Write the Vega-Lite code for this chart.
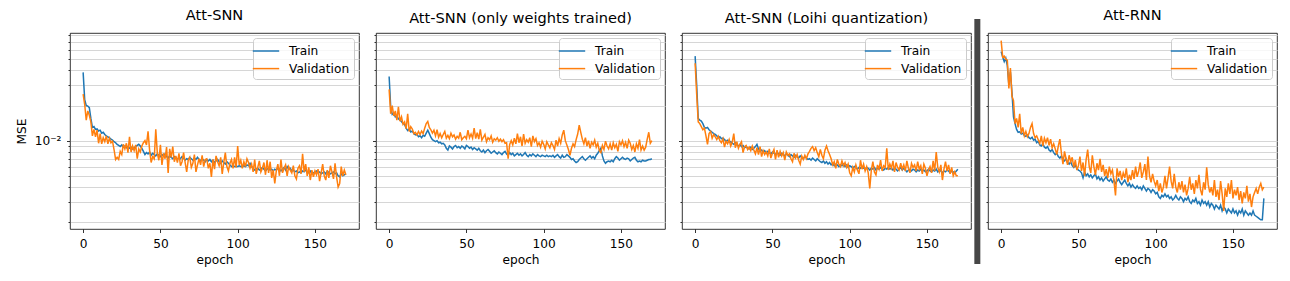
{
"$schema": "https://vega.github.io/schema/vega-lite/v6.json",
"background": "white",
"padding": {"left": 14, "top": 7, "right": 5, "bottom": 0},
"datasets": {"loss": [
{"epoch":0,"t1":0.0385,"v1":0.025,"t2":0.0355,"v2":0.0275,"t3":0.053,"v3":0.046,"t4":0.058,"v4":0.072},
{"epoch":1,"t1":0.0225,"v1":0.0205,"t2":0.0195,"v2":0.017,"t3":0.03,"v3":0.025,"t4":0.052,"v4":0.052},
{"epoch":2,"t1":0.02,"v1":0.015,"t2":0.0168,"v2":0.02,"t3":0.0155,"v3":0.0145,"t4":0.0475,"v4":0.053},
{"epoch":3,"t1":0.0198,"v1":0.018,"t2":0.0172,"v2":0.0163,"t3":0.015,"v3":0.014,"t4":0.051,"v4":0.05},
{"epoch":4,"t1":0.0192,"v1":0.0165,"t2":0.016,"v2":0.018,"t3":0.0147,"v3":0.0132,"t4":0.044,"v4":0.049},
{"epoch":5,"t1":0.0155,"v1":0.0145,"t2":0.0163,"v2":0.015,"t3":0.014,"v3":0.0124,"t4":0.03,"v4":0.028},
{"epoch":6,"t1":0.013,"v1":0.011,"t2":0.0154,"v2":0.0195,"t3":0.013,"v3":0.0128,"t4":0.039,"v4":0.042},
{"epoch":7,"t1":0.0132,"v1":0.0125,"t2":0.015,"v2":0.0147,"t3":0.0128,"v3":0.011,"t4":0.026,"v4":0.024},
{"epoch":8,"t1":0.0125,"v1":0.0108,"t2":0.0146,"v2":0.016,"t3":0.013,"v3":0.0093,"t4":0.016,"v4":0.022},
{"epoch":9,"t1":0.0126,"v1":0.0123,"t2":0.014,"v2":0.0138,"t3":0.0124,"v3":0.0115,"t4":0.014,"v4":0.014},
{"epoch":10,"t1":0.0121,"v1":0.0095,"t2":0.0138,"v2":0.0145,"t3":0.0121,"v3":0.012,"t4":0.0125,"v4":0.0155},
{"epoch":11,"t1":0.0123,"v1":0.0115,"t2":0.0128,"v2":0.0127,"t3":0.0118,"v3":0.0105,"t4":0.0118,"v4":0.013},
{"epoch":12,"t1":0.0116,"v1":0.0094,"t2":0.0122,"v2":0.017,"t3":0.0115,"v3":0.0113,"t4":0.0119,"v4":0.017},
{"epoch":13,"t1":0.0118,"v1":0.0106,"t2":0.0126,"v2":0.012,"t3":0.0113,"v3":0.0108,"t4":0.0114,"v4":0.0115},
{"epoch":14,"t1":0.0113,"v1":0.0098,"t2":0.0119,"v2":0.0132,"t3":0.011,"v3":0.0102,"t4":0.0116,"v4":0.013},
{"epoch":15,"t1":0.011,"v1":0.011,"t2":0.0121,"v2":0.0126,"t3":0.0106,"v3":0.0109,"t4":0.0111,"v4":0.011},
{"epoch":16,"t1":0.0108,"v1":0.0094,"t2":0.0115,"v2":0.0115,"t3":0.0108,"v3":0.01,"t4":0.0109,"v4":0.012},
{"epoch":17,"t1":0.0106,"v1":0.0105,"t2":0.0112,"v2":0.0118,"t3":0.0104,"v3":0.0096,"t4":0.0112,"v4":0.0108},
{"epoch":18,"t1":0.0103,"v1":0.0096,"t2":0.0114,"v2":0.0112,"t3":0.0105,"v3":0.0104,"t4":0.0106,"v4":0.0115},
{"epoch":19,"t1":0.0101,"v1":0.0099,"t2":0.0108,"v2":0.012,"t3":0.0102,"v3":0.0088,"t4":0.0104,"v4":0.013},
{"epoch":20,"t1":0.0098,"v1":0.0084,"t2":0.011,"v2":0.0113,"t3":0.0099,"v3":0.0099,"t4":0.0107,"v4":0.014},
{"epoch":21,"t1":0.0096,"v1":0.0069,"t2":0.0106,"v2":0.0121,"t3":0.0101,"v3":0.0094,"t4":0.0101,"v4":0.0115},
{"epoch":22,"t1":0.0093,"v1":0.0072,"t2":0.0111,"v2":0.0115,"t3":0.0097,"v3":0.0102,"t4":0.0103,"v4":0.0106},
{"epoch":23,"t1":0.0091,"v1":0.0069,"t2":0.0109,"v2":0.0128,"t3":0.0098,"v3":0.009,"t4":0.0096,"v4":0.011},
{"epoch":24,"t1":0.0089,"v1":0.0081,"t2":0.0116,"v2":0.014,"t3":0.0095,"v3":0.0097,"t4":0.0099,"v4":0.0102},
{"epoch":25,"t1":0.0092,"v1":0.0076,"t2":0.0123,"v2":0.0146,"t3":0.0093,"v3":0.0115,"t4":0.0092,"v4":0.0095},
{"epoch":26,"t1":0.0088,"v1":0.0093,"t2":0.0115,"v2":0.013,"t3":0.0096,"v3":0.0087,"t4":0.009,"v4":0.011},
{"epoch":27,"t1":0.009,"v1":0.0085,"t2":0.0107,"v2":0.0124,"t3":0.0092,"v3":0.0098,"t4":0.0094,"v4":0.009},
{"epoch":28,"t1":0.0087,"v1":0.0095,"t2":0.0102,"v2":0.0116,"t3":0.009,"v3":0.0086,"t4":0.0088,"v4":0.0105},
{"epoch":29,"t1":0.0089,"v1":0.0079,"t2":0.01,"v2":0.0123,"t3":0.0093,"v3":0.0093,"t4":0.0086,"v4":0.0096},
{"epoch":30,"t1":0.0086,"v1":0.0108,"t2":0.0098,"v2":0.011,"t3":0.0089,"v3":0.0098,"t4":0.0089,"v4":0.0106},
{"epoch":31,"t1":0.0088,"v1":0.008,"t2":0.01,"v2":0.0124,"t3":0.0091,"v3":0.0079,"t4":0.0083,"v4":0.0091},
{"epoch":32,"t1":0.0085,"v1":0.009,"t2":0.0096,"v2":0.0107,"t3":0.0087,"v3":0.0089,"t4":0.0081,"v4":0.0103},
{"epoch":33,"t1":0.0087,"v1":0.0082,"t2":0.0097,"v2":0.0115,"t3":0.0089,"v3":0.0091,"t4":0.0084,"v4":0.0087},
{"epoch":34,"t1":0.0089,"v1":0.0092,"t2":0.0094,"v2":0.0106,"t3":0.0086,"v3":0.0084,"t4":0.0079,"v4":0.0094},
{"epoch":35,"t1":0.0091,"v1":0.007,"t2":0.0095,"v2":0.0113,"t3":0.0085,"v3":0.0088,"t4":0.0076,"v4":0.0085},
{"epoch":36,"t1":0.0093,"v1":0.0085,"t2":0.0092,"v2":0.012,"t3":0.0088,"v3":0.0082,"t4":0.0078,"v4":0.0076},
{"epoch":37,"t1":0.009,"v1":0.008,"t2":0.0086,"v2":0.0105,"t3":0.0084,"v3":0.009,"t4":0.0073,"v4":0.009},
{"epoch":38,"t1":0.0086,"v1":0.009,"t2":0.0083,"v2":0.0111,"t3":0.0086,"v3":0.0083,"t4":0.0071,"v4":0.0103},
{"epoch":39,"t1":0.0081,"v1":0.0096,"t2":0.009,"v2":0.0104,"t3":0.0089,"v3":0.0077,"t4":0.0074,"v4":0.0078},
{"epoch":40,"t1":0.0076,"v1":0.01,"t2":0.0088,"v2":0.0116,"t3":0.0093,"v3":0.0087,"t4":0.0069,"v4":0.0063},
{"epoch":41,"t1":0.0079,"v1":0.0092,"t2":0.0085,"v2":0.0108,"t3":0.0085,"v3":0.0076,"t4":0.0067,"v4":0.0081},
{"epoch":42,"t1":0.0077,"v1":0.012,"t2":0.0089,"v2":0.0112,"t3":0.0081,"v3":0.0089,"t4":0.007,"v4":0.007},
{"epoch":43,"t1":0.008,"v1":0.0083,"t2":0.0091,"v2":0.0103,"t3":0.0083,"v3":0.0073,"t4":0.0065,"v4":0.0062},
{"epoch":44,"t1":0.0075,"v1":0.0065,"t2":0.0087,"v2":0.0109,"t3":0.008,"v3":0.0082,"t4":0.0063,"v4":0.0075},
{"epoch":45,"t1":0.0078,"v1":0.0073,"t2":0.0089,"v2":0.0105,"t3":0.0082,"v3":0.0076,"t4":0.0066,"v4":0.0066},
{"epoch":46,"t1":0.0076,"v1":0.007,"t2":0.0086,"v2":0.0118,"t3":0.0078,"v3":0.008,"t4":0.0061,"v4":0.0072},
{"epoch":47,"t1":0.0074,"v1":0.0125,"t2":0.009,"v2":0.0102,"t3":0.0081,"v3":0.0074,"t4":0.0059,"v4":0.0059},
{"epoch":48,"t1":0.0077,"v1":0.0078,"t2":0.0088,"v2":0.0106,"t3":0.0079,"v3":0.0085,"t4":0.0062,"v4":0.0068},
{"epoch":49,"t1":0.0075,"v1":0.0068,"t2":0.0085,"v2":0.0109,"t3":0.0077,"v3":0.0071,"t4":0.0058,"v4":0.0056},
{"epoch":50,"t1":0.0073,"v1":0.0092,"t2":0.0091,"v2":0.0104,"t3":0.008,"v3":0.0078,"t4":0.0056,"v4":0.0061},
{"epoch":51,"t1":0.0076,"v1":0.0062,"t2":0.0089,"v2":0.0123,"t3":0.0078,"v3":0.0084,"t4":0.0055,"v4":0.0073},
{"epoch":52,"t1":0.0074,"v1":0.0078,"t2":0.0086,"v2":0.0106,"t3":0.0076,"v3":0.0069,"t4":0.0053,"v4":0.0055},
{"epoch":53,"t1":0.0077,"v1":0.007,"t2":0.0088,"v2":0.0114,"t3":0.0079,"v3":0.0083,"t4":0.0048,"v4":0.0065},
{"epoch":54,"t1":0.0073,"v1":0.0088,"t2":0.0084,"v2":0.0105,"t3":0.0077,"v3":0.0072,"t4":0.0054,"v4":0.005},
{"epoch":55,"t1":0.0071,"v1":0.0053,"t2":0.0087,"v2":0.0128,"t3":0.0075,"v3":0.0081,"t4":0.005,"v4":0.0069},
{"epoch":56,"t1":0.0074,"v1":0.0085,"t2":0.0085,"v2":0.0104,"t3":0.0078,"v3":0.0074,"t4":0.0052,"v4":0.0084},
{"epoch":57,"t1":0.0072,"v1":0.0072,"t2":0.0083,"v2":0.0117,"t3":0.0076,"v3":0.0079,"t4":0.0049,"v4":0.006},
{"epoch":58,"t1":0.007,"v1":0.0089,"t2":0.0086,"v2":0.0103,"t3":0.0074,"v3":0.0068,"t4":0.0051,"v4":0.0053},
{"epoch":59,"t1":0.0073,"v1":0.0066,"t2":0.0082,"v2":0.0125,"t3":0.0077,"v3":0.008,"t4":0.0048,"v4":0.0075},
{"epoch":60,"t1":0.0071,"v1":0.0074,"t2":0.008,"v2":0.0101,"t3":0.0075,"v3":0.0075,"t4":0.005,"v4":0.006},
{"epoch":61,"t1":0.0069,"v1":0.0065,"t2":0.0083,"v2":0.0107,"t3":0.0073,"v3":0.0077,"t4":0.0052,"v4":0.0051},
{"epoch":62,"t1":0.0072,"v1":0.0078,"t2":0.0079,"v2":0.0113,"t3":0.0076,"v3":0.007,"t4":0.0047,"v4":0.0064},
{"epoch":63,"t1":0.007,"v1":0.0061,"t2":0.0082,"v2":0.0098,"t3":0.0074,"v3":0.0066,"t4":0.0049,"v4":0.0056},
{"epoch":64,"t1":0.0073,"v1":0.0066,"t2":0.0084,"v2":0.0106,"t3":0.0072,"v3":0.0078,"t4":0.0046,"v4":0.007},
{"epoch":65,"t1":0.0071,"v1":0.0079,"t2":0.0081,"v2":0.0102,"t3":0.0075,"v3":0.0071,"t4":0.0048,"v4":0.0054},
{"epoch":66,"t1":0.0068,"v1":0.0065,"t2":0.0078,"v2":0.011,"t3":0.0073,"v3":0.0076,"t4":0.0045,"v4":0.0062},
{"epoch":67,"t1":0.007,"v1":0.0054,"t2":0.008,"v2":0.0097,"t3":0.0071,"v3":0.0068,"t4":0.0047,"v4":0.005},
{"epoch":68,"t1":0.0069,"v1":0.0068,"t2":0.0082,"v2":0.0104,"t3":0.0074,"v3":0.0063,"t4":0.0049,"v4":0.0057},
{"epoch":69,"t1":0.0072,"v1":0.0072,"t2":0.0079,"v2":0.0101,"t3":0.0072,"v3":0.0074,"t4":0.0046,"v4":0.0048},
{"epoch":70,"t1":0.007,"v1":0.0059,"t2":0.0077,"v2":0.0106,"t3":0.007,"v3":0.0069,"t4":0.0045,"v4":0.006},
{"epoch":71,"t1":0.0068,"v1":0.0064,"t2":0.008,"v2":0.0099,"t3":0.0073,"v3":0.0075,"t4":0.0047,"v4":0.0052},
{"epoch":72,"t1":0.0071,"v1":0.0076,"t2":0.0078,"v2":0.0103,"t3":0.0071,"v3":0.007,"t4":0.0044,"v4":0.0056},
{"epoch":73,"t1":0.0069,"v1":0.0054,"t2":0.0076,"v2":0.0098,"t3":0.0069,"v3":0.0077,"t4":0.0046,"v4":0.0045},
{"epoch":74,"t1":0.0072,"v1":0.0062,"t2":0.0079,"v2":0.0102,"t3":0.007,"v3":0.0081,"t4":0.0043,"v4":0.0034},
{"epoch":75,"t1":0.0069,"v1":0.007,"t2":0.0081,"v2":0.0095,"t3":0.0068,"v3":0.0086,"t4":0.0045,"v4":0.0058},
{"epoch":76,"t1":0.0067,"v1":0.0062,"t2":0.0077,"v2":0.0096,"t3":0.0071,"v3":0.0089,"t4":0.0047,"v4":0.0049},
{"epoch":77,"t1":0.007,"v1":0.0075,"t2":0.0075,"v2":0.007,"t3":0.0069,"v3":0.0082,"t4":0.0044,"v4":0.0055},
{"epoch":78,"t1":0.0068,"v1":0.006,"t2":0.0079,"v2":0.0093,"t3":0.0067,"v3":0.0087,"t4":0.0042,"v4":0.0046},
{"epoch":79,"t1":0.0066,"v1":0.0069,"t2":0.0076,"v2":0.01,"t3":0.007,"v3":0.0079,"t4":0.0044,"v4":0.0053},
{"epoch":80,"t1":0.0069,"v1":0.007,"t2":0.0078,"v2":0.0092,"t3":0.0068,"v3":0.0073,"t4":0.0046,"v4":0.0048},
{"epoch":81,"t1":0.0067,"v1":0.0058,"t2":0.0074,"v2":0.0105,"t3":0.0066,"v3":0.0084,"t4":0.0043,"v4":0.0058},
{"epoch":82,"t1":0.0069,"v1":0.0064,"t2":0.0076,"v2":0.0094,"t3":0.0065,"v3":0.0075,"t4":0.0041,"v4":0.0044},
{"epoch":83,"t1":0.0066,"v1":0.0049,"t2":0.0078,"v2":0.0115,"t3":0.0067,"v3":0.007,"t4":0.0043,"v4":0.0051},
{"epoch":84,"t1":0.0068,"v1":0.0069,"t2":0.0075,"v2":0.0096,"t3":0.0064,"v3":0.0083,"t4":0.004,"v4":0.0046},
{"epoch":85,"t1":0.0065,"v1":0.0057,"t2":0.0077,"v2":0.0108,"t3":0.0066,"v3":0.009,"t4":0.0042,"v4":0.0056},
{"epoch":86,"t1":0.0067,"v1":0.0074,"t2":0.0074,"v2":0.009,"t3":0.0063,"v3":0.0082,"t4":0.004,"v4":0.0047},
{"epoch":87,"t1":0.0069,"v1":0.0066,"t2":0.0076,"v2":0.0114,"t3":0.0065,"v3":0.0076,"t4":0.0039,"v4":0.006},
{"epoch":88,"t1":0.0066,"v1":0.0061,"t2":0.0079,"v2":0.0095,"t3":0.0062,"v3":0.007,"t4":0.0041,"v4":0.0049},
{"epoch":89,"t1":0.0064,"v1":0.0072,"t2":0.0075,"v2":0.0102,"t3":0.0064,"v3":0.0062,"t4":0.0039,"v4":0.0055},
{"epoch":90,"t1":0.0067,"v1":0.0052,"t2":0.0073,"v2":0.0097,"t3":0.0061,"v3":0.0066,"t4":0.004,"v4":0.0065},
{"epoch":91,"t1":0.0065,"v1":0.0065,"t2":0.0076,"v2":0.0106,"t3":0.0063,"v3":0.0058,"t4":0.0038,"v4":0.0048},
{"epoch":92,"t1":0.0063,"v1":0.0079,"t2":0.0074,"v2":0.0089,"t3":0.0062,"v3":0.0069,"t4":0.0041,"v4":0.0054},
{"epoch":93,"t1":0.0066,"v1":0.006,"t2":0.0077,"v2":0.011,"t3":0.006,"v3":0.0063,"t4":0.0039,"v4":0.0063},
{"epoch":94,"t1":0.0064,"v1":0.0055,"t2":0.0075,"v2":0.0098,"t3":0.0062,"v3":0.006,"t4":0.0037,"v4":0.0046},
{"epoch":95,"t1":0.0062,"v1":0.0064,"t2":0.0073,"v2":0.0104,"t3":0.0061,"v3":0.0067,"t4":0.0039,"v4":0.0073},
{"epoch":96,"t1":0.006,"v1":0.0069,"t2":0.0076,"v2":0.0091,"t3":0.0063,"v3":0.0061,"t4":0.0038,"v4":0.005},
{"epoch":97,"t1":0.0061,"v1":0.0058,"t2":0.0074,"v2":0.0096,"t3":0.006,"v3":0.0065,"t4":0.0036,"v4":0.0044},
{"epoch":98,"t1":0.006,"v1":0.0072,"t2":0.0073,"v2":0.0088,"t3":0.0062,"v3":0.0059,"t4":0.0038,"v4":0.0052},
{"epoch":99,"t1":0.006,"v1":0.0059,"t2":0.0075,"v2":0.0099,"t3":0.0059,"v3":0.0063,"t4":0.0037,"v4":0.0045},
{"epoch":100,"t1":0.006,"v1":0.009,"t2":0.0074,"v2":0.0093,"t3":0.0061,"v3":0.0053,"t4":0.0035,"v4":0.0041},
{"epoch":101,"t1":0.0061,"v1":0.0062,"t2":0.0073,"v2":0.0085,"t3":0.006,"v3":0.005,"t4":0.0036,"v4":0.0046},
{"epoch":102,"t1":0.006,"v1":0.0068,"t2":0.0075,"v2":0.0098,"t3":0.0058,"v3":0.0059,"t4":0.0033,"v4":0.0037},
{"epoch":103,"t1":0.006,"v1":0.0058,"t2":0.0073,"v2":0.0092,"t3":0.006,"v3":0.0054,"t4":0.0032,"v4":0.0043},
{"epoch":104,"t1":0.0061,"v1":0.0066,"t2":0.0074,"v2":0.0087,"t3":0.0059,"v3":0.0062,"t4":0.0034,"v4":0.0036},
{"epoch":105,"t1":0.006,"v1":0.006,"t2":0.0073,"v2":0.0096,"t3":0.0057,"v3":0.0056,"t4":0.0033,"v4":0.004},
{"epoch":106,"t1":0.0062,"v1":0.007,"t2":0.0075,"v2":0.0091,"t3":0.0059,"v3":0.0052,"t4":0.0035,"v4":0.005},
{"epoch":107,"t1":0.0061,"v1":0.0065,"t2":0.0072,"v2":0.0084,"t3":0.0058,"v3":0.0068,"t4":0.0033,"v4":0.0039},
{"epoch":108,"t1":0.0064,"v1":0.0058,"t2":0.0074,"v2":0.0101,"t3":0.006,"v3":0.0057,"t4":0.0034,"v4":0.0048},
{"epoch":109,"t1":0.006,"v1":0.0063,"t2":0.0076,"v2":0.009,"t3":0.0058,"v3":0.0063,"t4":0.0032,"v4":0.006},
{"epoch":110,"t1":0.0058,"v1":0.0054,"t2":0.0073,"v2":0.0104,"t3":0.0057,"v3":0.0055,"t4":0.0033,"v4":0.0045},
{"epoch":111,"t1":0.0056,"v1":0.0069,"t2":0.0071,"v2":0.0095,"t3":0.0059,"v3":0.006,"t4":0.0031,"v4":0.0039},
{"epoch":112,"t1":0.0057,"v1":0.0052,"t2":0.0075,"v2":0.0112,"t3":0.0058,"v3":0.0053,"t4":0.0032,"v4":0.0052},
{"epoch":113,"t1":0.0058,"v1":0.0059,"t2":0.0072,"v2":0.0123,"t3":0.0056,"v3":0.0039,"t4":0.0034,"v4":0.004},
{"epoch":114,"t1":0.0056,"v1":0.0067,"t2":0.0073,"v2":0.01,"t3":0.0058,"v3":0.0056,"t4":0.0032,"v4":0.0036},
{"epoch":115,"t1":0.0057,"v1":0.0054,"t2":0.0076,"v2":0.0092,"t3":0.0057,"v3":0.0066,"t4":0.0031,"v4":0.0044},
{"epoch":116,"t1":0.0059,"v1":0.0058,"t2":0.0074,"v2":0.0084,"t3":0.0059,"v3":0.0054,"t4":0.0033,"v4":0.0038},
{"epoch":117,"t1":0.0057,"v1":0.0065,"t2":0.0072,"v2":0.0075,"t3":0.0056,"v3":0.0051,"t4":0.0032,"v4":0.0045},
{"epoch":118,"t1":0.0055,"v1":0.0051,"t2":0.0069,"v2":0.0086,"t3":0.0058,"v3":0.0062,"t4":0.003,"v4":0.0036},
{"epoch":119,"t1":0.0057,"v1":0.0068,"t2":0.007,"v2":0.0094,"t3":0.0057,"v3":0.0057,"t4":0.0032,"v4":0.0042},
{"epoch":120,"t1":0.0058,"v1":0.0053,"t2":0.0067,"v2":0.0089,"t3":0.0059,"v3":0.0068,"t4":0.0031,"v4":0.0034},
{"epoch":121,"t1":0.0056,"v1":0.0066,"t2":0.0065,"v2":0.0102,"t3":0.0057,"v3":0.0055,"t4":0.0033,"v4":0.0039},
{"epoch":122,"t1":0.0057,"v1":0.0048,"t2":0.0066,"v2":0.0114,"t3":0.0056,"v3":0.0061,"t4":0.003,"v4":0.0049},
{"epoch":123,"t1":0.0055,"v1":0.0056,"t2":0.0069,"v2":0.0136,"t3":0.0058,"v3":0.0059,"t4":0.0029,"v4":0.0038},
{"epoch":124,"t1":0.0057,"v1":0.0043,"t2":0.0071,"v2":0.0118,"t3":0.0057,"v3":0.0086,"t4":0.0031,"v4":0.0043},
{"epoch":125,"t1":0.0056,"v1":0.0055,"t2":0.0073,"v2":0.0103,"t3":0.0059,"v3":0.0056,"t4":0.003,"v4":0.0035},
{"epoch":126,"t1":0.0058,"v1":0.0063,"t2":0.007,"v2":0.0094,"t3":0.0057,"v3":0.0063,"t4":0.0032,"v4":0.0046},
{"epoch":127,"t1":0.0057,"v1":0.005,"t2":0.0068,"v2":0.0106,"t3":0.0058,"v3":0.0058,"t4":0.0029,"v4":0.0039},
{"epoch":128,"t1":0.0055,"v1":0.0069,"t2":0.007,"v2":0.009,"t3":0.0056,"v3":0.0067,"t4":0.003,"v4":0.0051},
{"epoch":129,"t1":0.0057,"v1":0.0053,"t2":0.0072,"v2":0.01,"t3":0.0058,"v3":0.0054,"t4":0.0028,"v4":0.0038},
{"epoch":130,"t1":0.0059,"v1":0.0058,"t2":0.0074,"v2":0.0086,"t3":0.0057,"v3":0.0065,"t4":0.0031,"v4":0.0034},
{"epoch":131,"t1":0.0056,"v1":0.0062,"t2":0.0071,"v2":0.0097,"t3":0.0055,"v3":0.0059,"t4":0.0029,"v4":0.0044},
{"epoch":132,"t1":0.006,"v1":0.005,"t2":0.0073,"v2":0.0092,"t3":0.0057,"v3":0.0056,"t4":0.003,"v4":0.0038},
{"epoch":133,"t1":0.0057,"v1":0.006,"t2":0.007,"v2":0.0101,"t3":0.0059,"v3":0.0064,"t4":0.0028,"v4":0.0059},
{"epoch":134,"t1":0.0058,"v1":0.0056,"t2":0.0075,"v2":0.0088,"t3":0.0056,"v3":0.0057,"t4":0.003,"v4":0.0042},
{"epoch":135,"t1":0.0055,"v1":0.0053,"t2":0.0078,"v2":0.0095,"t3":0.0058,"v3":0.0062,"t4":0.0027,"v4":0.0036},
{"epoch":136,"t1":0.0056,"v1":0.0061,"t2":0.0082,"v2":0.0082,"t3":0.0056,"v3":0.0055,"t4":0.0029,"v4":0.004},
{"epoch":137,"t1":0.0054,"v1":0.005,"t2":0.0086,"v2":0.0079,"t3":0.0054,"v3":0.0067,"t4":0.0028,"v4":0.0034},
{"epoch":138,"t1":0.0055,"v1":0.0047,"t2":0.0074,"v2":0.0091,"t3":0.0056,"v3":0.0058,"t4":0.0026,"v4":0.0046},
{"epoch":139,"t1":0.0053,"v1":0.0058,"t2":0.0067,"v2":0.0084,"t3":0.0057,"v3":0.0053,"t4":0.0028,"v4":0.0033},
{"epoch":140,"t1":0.0054,"v1":0.0061,"t2":0.0064,"v2":0.0099,"t3":0.0055,"v3":0.0064,"t4":0.0027,"v4":0.0038},
{"epoch":141,"t1":0.0053,"v1":0.0052,"t2":0.0066,"v2":0.009,"t3":0.0057,"v3":0.0059,"t4":0.0026,"v4":0.0031},
{"epoch":142,"t1":0.0055,"v1":0.0077,"t2":0.0067,"v2":0.0085,"t3":0.0056,"v3":0.0062,"t4":0.0028,"v4":0.0045},
{"epoch":143,"t1":0.0054,"v1":0.0054,"t2":0.0066,"v2":0.0094,"t3":0.0054,"v3":0.0055,"t4":0.0025,"v4":0.0035},
{"epoch":144,"t1":0.0056,"v1":0.0063,"t2":0.0068,"v2":0.0083,"t3":0.0056,"v3":0.0066,"t4":0.0027,"v4":0.0025},
{"epoch":145,"t1":0.0054,"v1":0.005,"t2":0.0066,"v2":0.0096,"t3":0.0055,"v3":0.0057,"t4":0.0026,"v4":0.0039},
{"epoch":146,"t1":0.0053,"v1":0.0059,"t2":0.007,"v2":0.0087,"t3":0.0057,"v3":0.0061,"t4":0.0024,"v4":0.0033},
{"epoch":147,"t1":0.0055,"v1":0.0046,"t2":0.0073,"v2":0.0093,"t3":0.0055,"v3":0.0052,"t4":0.0026,"v4":0.0043},
{"epoch":148,"t1":0.0052,"v1":0.0056,"t2":0.0071,"v2":0.0081,"t3":0.0056,"v3":0.0063,"t4":0.0025,"v4":0.0035},
{"epoch":149,"t1":0.0053,"v1":0.0049,"t2":0.0068,"v2":0.0098,"t3":0.0054,"v3":0.0058,"t4":0.0024,"v4":0.0046},
{"epoch":150,"t1":0.0054,"v1":0.0055,"t2":0.007,"v2":0.0092,"t3":0.0055,"v3":0.005,"t4":0.0026,"v4":0.0032},
{"epoch":151,"t1":0.0055,"v1":0.0051,"t2":0.0072,"v2":0.01,"t3":0.0057,"v3":0.0056,"t4":0.0024,"v4":0.0038},
{"epoch":152,"t1":0.0053,"v1":0.0057,"t2":0.007,"v2":0.0089,"t3":0.0055,"v3":0.006,"t4":0.0025,"v4":0.0034},
{"epoch":153,"t1":0.0054,"v1":0.0045,"t2":0.0069,"v2":0.0097,"t3":0.0054,"v3":0.0053,"t4":0.0023,"v4":0.004},
{"epoch":154,"t1":0.0052,"v1":0.0053,"t2":0.0071,"v2":0.0086,"t3":0.0056,"v3":0.0067,"t4":0.0025,"v4":0.0031},
{"epoch":155,"t1":0.0053,"v1":0.0063,"t2":0.007,"v2":0.0101,"t3":0.0055,"v3":0.0055,"t4":0.0024,"v4":0.0037},
{"epoch":156,"t1":0.0054,"v1":0.005,"t2":0.0067,"v2":0.0095,"t3":0.0057,"v3":0.008,"t4":0.0026,"v4":0.0029},
{"epoch":157,"t1":0.0052,"v1":0.0046,"t2":0.0069,"v2":0.0084,"t3":0.0054,"v3":0.0059,"t4":0.0023,"v4":0.0036},
{"epoch":158,"t1":0.0055,"v1":0.0056,"t2":0.0071,"v2":0.0091,"t3":0.0056,"v3":0.0054,"t4":0.0025,"v4":0.0032},
{"epoch":159,"t1":0.0053,"v1":0.0048,"t2":0.0072,"v2":0.008,"t3":0.0055,"v3":0.0062,"t4":0.0024,"v4":0.0041},
{"epoch":160,"t1":0.0052,"v1":0.0061,"t2":0.0068,"v2":0.0094,"t3":0.0053,"v3":0.0046,"t4":0.0023,"v4":0.003},
{"epoch":161,"t1":0.0053,"v1":0.0054,"t2":0.0066,"v2":0.0086,"t3":0.0055,"v3":0.0057,"t4":0.0024,"v4":0.0035},
{"epoch":162,"t1":0.0054,"v1":0.0047,"t2":0.0067,"v2":0.0102,"t3":0.0054,"v3":0.0066,"t4":0.0023,"v4":0.0027},
{"epoch":163,"t1":0.0052,"v1":0.0064,"t2":0.0066,"v2":0.0083,"t3":0.0056,"v3":0.0055,"t4":0.0025,"v4":0.0033},
{"epoch":164,"t1":0.0053,"v1":0.0049,"t2":0.0068,"v2":0.009,"t3":0.0055,"v3":0.0062,"t4":0.0023,"v4":0.0036},
{"epoch":165,"t1":0.005,"v1":0.004,"t2":0.0067,"v2":0.0083,"t3":0.0053,"v3":0.0052,"t4":0.00225,"v4":0.0039},
{"epoch":166,"t1":0.0049,"v1":0.0043,"t2":0.0067,"v2":0.0088,"t3":0.0055,"v3":0.0059,"t4":0.0022,"v4":0.0035},
{"epoch":167,"t1":0.0052,"v1":0.006,"t2":0.0068,"v2":0.0103,"t3":0.0054,"v3":0.005,"t4":0.00215,"v4":0.004},
{"epoch":168,"t1":0.005,"v1":0.005,"t2":0.0069,"v2":0.0118,"t3":0.0053,"v3":0.0054,"t4":0.0021,"v4":0.0043},
{"epoch":169,"t1":0.0051,"v1":0.0056,"t2":0.0069,"v2":0.0095,"t3":0.0055,"v3":0.005,"t4":0.0021,"v4":0.0038},
{"epoch":170,"t1":0.0052,"v1":0.0051,"t2":0.007,"v2":0.01,"t3":0.0057,"v3":0.005,"t4":0.0032,"v4":0.004}
]},
"data": {"name": "loss"},
"spacing": 17,
"bounds": "flush",
"resolve": {"scale": {"x": "independent", "y": "independent", "color": "independent"}, "legend": {"color": "independent"}},
"hconcat": [
{
"width": 289, "height": 196,
"title": {"text": "Att-SNN"},
"transform": [{"fold": ["t1", "v1"], "as": ["series", "mse"]}],
"mark": {"type": "line", "strokeWidth": 1.5},
"encoding": {
"x": {"field": "epoch", "type": "quantitative", "scale": {"domain": [-8.5, 178.5], "nice": false, "zero": false}, "axis": {"values": [0, 50, 100, 150], "title": "epoch"}},
"y": {"field": "mse", "type": "quantitative", "scale": {"type": "log", "domain": [0.00175, 0.0837], "nice": false}, "axis": {"values": [0.002,0.003,0.004,0.005,0.006,0.007,0.008,0.009,0.01,0.02,0.03,0.04,0.05,0.06,0.07,0.08], "grid": true, "tickSize": {"condition": {"test": "datum.value > 0.0099 && datum.value < 0.0101", "value": 3.5}, "value": 2}, "labelExpr": "datum.value > 0.0099 && datum.value < 0.0101 ? '10⁻²' : ''", "labelPadding": 5.5, "title": "MSE", "titlePadding": 6, "labelOverlap": false}},
"color": {"field": "series", "type": "nominal", "scale": {"domain": ["t1", "v1"], "range": ["#1f77b4", "#ff7f0e"]}, "legend": {"title": null, "labelExpr": "substring(datum.value,0,1) == 't' ? 'Train' : 'Validation'"}}
}
},
{
"width": 289, "height": 196,
"title": {"text": "Att-SNN (only weights trained)"},
"transform": [{"fold": ["t2", "v2"], "as": ["series", "mse"]}],
"mark": {"type": "line", "strokeWidth": 1.5},
"encoding": {
"x": {"field": "epoch", "type": "quantitative", "scale": {"domain": [-8.5, 178.5], "nice": false, "zero": false}, "axis": {"values": [0, 50, 100, 150], "title": "epoch"}},
"y": {"field": "mse", "type": "quantitative", "scale": {"type": "log", "domain": [0.00175, 0.0837], "nice": false}, "axis": {"values": [0.002,0.003,0.004,0.005,0.006,0.007,0.008,0.009,0.01,0.02,0.03,0.04,0.05,0.06,0.07,0.08], "grid": true, "tickSize": {"condition": {"test": "datum.value > 0.0099 && datum.value < 0.0101", "value": 3.5}, "value": 2}, "labels": false, "title": null}},
"color": {"field": "series", "type": "nominal", "scale": {"domain": ["t2", "v2"], "range": ["#1f77b4", "#ff7f0e"]}, "legend": {"title": null, "labelExpr": "substring(datum.value,0,1) == 't' ? 'Train' : 'Validation'"}}
}
},
{
"width": 289, "height": 196,
"title": {"text": "Att-SNN (Loihi quantization)"},
"transform": [{"fold": ["t3", "v3"], "as": ["series", "mse"]}],
"mark": {"type": "line", "strokeWidth": 1.5},
"encoding": {
"x": {"field": "epoch", "type": "quantitative", "scale": {"domain": [-8.5, 178.5], "nice": false, "zero": false}, "axis": {"values": [0, 50, 100, 150], "title": "epoch"}},
"y": {"field": "mse", "type": "quantitative", "scale": {"type": "log", "domain": [0.00175, 0.0837], "nice": false}, "axis": {"values": [0.002,0.003,0.004,0.005,0.006,0.007,0.008,0.009,0.01,0.02,0.03,0.04,0.05,0.06,0.07,0.08], "grid": true, "tickSize": {"condition": {"test": "datum.value > 0.0099 && datum.value < 0.0101", "value": 3.5}, "value": 2}, "labels": false, "title": null}},
"color": {"field": "series", "type": "nominal", "scale": {"domain": ["t3", "v3"], "range": ["#1f77b4", "#ff7f0e"]}, "legend": {"title": null, "labelExpr": "substring(datum.value,0,1) == 't' ? 'Train' : 'Validation'"}}
}
},
{
"width": 289, "height": 196,
"title": {"text": "Att-RNN", "offset": -7},
"layer": [
{
"transform": [{"fold": ["t4", "v4"], "as": ["series", "mse"]}],
"mark": {"type": "line", "strokeWidth": 1.5},
"encoding": {
"x": {"field": "epoch", "type": "quantitative", "scale": {"domain": [-8.5, 178.5], "nice": false, "zero": false}, "axis": {"values": [0, 50, 100, 150], "title": "epoch"}},
"y": {"field": "mse", "type": "quantitative", "scale": {"type": "log", "domain": [0.00175, 0.0837], "nice": false}, "axis": {"values": [0.002,0.003,0.004,0.005,0.006,0.007,0.008,0.009,0.01,0.02,0.03,0.04,0.05,0.06,0.07,0.08], "grid": true, "tickSize": {"condition": {"test": "datum.value > 0.0099 && datum.value < 0.0101", "value": 3.5}, "value": 2}, "labels": false, "title": null}},
"color": {"field": "series", "type": "nominal", "scale": {"domain": ["t4", "v4"], "range": ["#1f77b4", "#ff7f0e"]}, "legend": {"title": null, "labelExpr": "substring(datum.value,0,1) == 't' ? 'Train' : 'Validation'"}}
}
},
{
"data": {"values": [{"part": "separator"}]},
"mark": {"type": "rule", "color": "#474747", "strokeWidth": 6, "clip": false},
"encoding": {
"x": {"datum": -15.4},
"y": {"datum": 0.1103},
"y2": {"datum": 0.000877}
}
}
]
}
],
"config": {
"font": "DejaVu Sans",
"view": {"stroke": "#000000", "strokeWidth": 0.8},
"axis": {"labelFont": "DejaVu Sans", "labelFontSize": 12.2, "labelColor": "#000000", "titleFont": "DejaVu Sans", "titleFontSize": 12.2, "titleFontWeight": "normal", "titleColor": "#000000", "tickColor": "#000000", "tickWidth": 0.8, "domain": false, "grid": false, "gridColor": "#d6d6d6", "gridWidth": 1, "labelPadding": 5, "titlePadding": 4},
"axisX": {"tickSize": 3.5},
"title": {"font": "DejaVu Sans", "fontSize": 14.6, "fontWeight": "normal", "color": "#000000", "frame": "group", "anchor": "middle", "baseline": "alphabetic", "offset": 7},
"legend": {"orient": "top-right", "offset": 5, "labelFont": "DejaVu Sans", "labelFontSize": 12.2, "labelColor": "#000000", "symbolType": "M-1.65,0H1.65", "symbolSize": 256, "symbolStrokeWidth": 1.5, "labelOffset": 14, "rowPadding": 1.6, "padding": 4, "strokeColor": "#cccccc", "fillColor": "rgba(255,255,255,0.8)", "cornerRadius": 3}
}
}
